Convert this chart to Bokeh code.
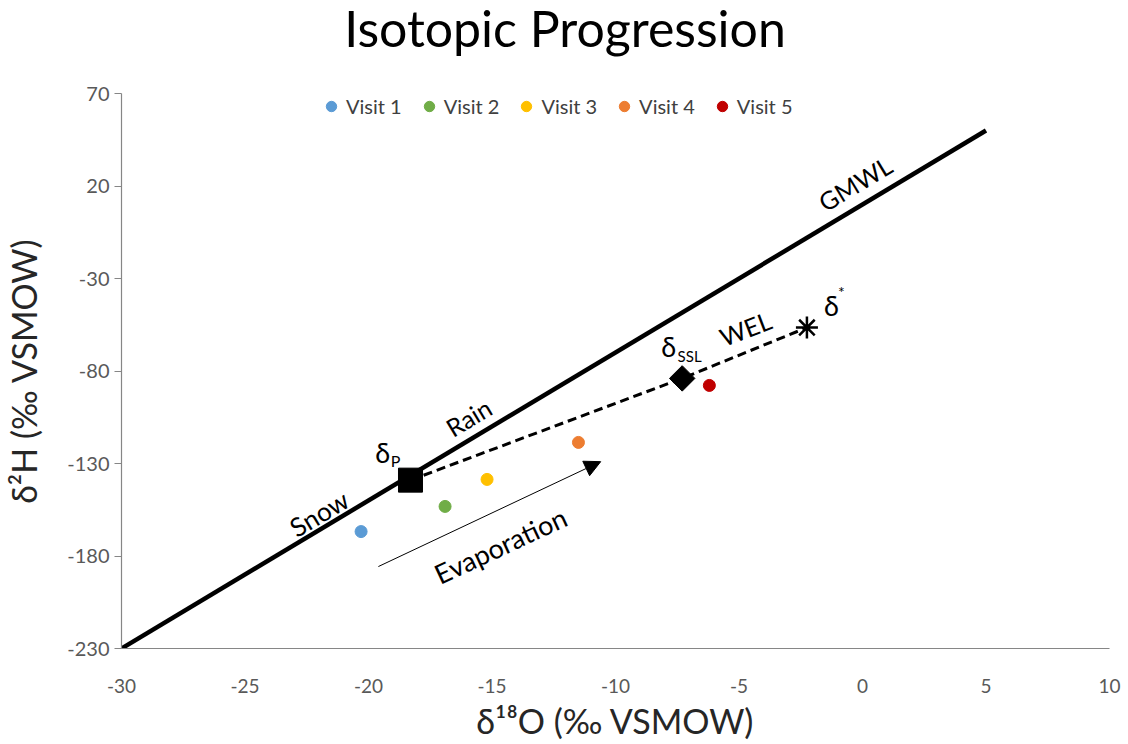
import numpy as np
from bokeh.plotting import figure
from bokeh.layouts import column
from bokeh.models import Range1d, Legend, LegendItem, Arrow, NormalHead, FixedTicker, Div
from bokeh.core.properties import value
from bokeh.embed import file_html
from bokeh.resources import INLINE

# ---- data ----
visits = ["Visit 1", "Visit 2", "Visit 3", "Visit 4", "Visit 5"]
visit_colors = ["#5B9BD5", "#70AD47", "#FFC000", "#ED7D31", "#C00000"]
visit_d18o = [-20.3, -16.9, -15.2, -11.5, -6.2]
visit_d2h = [-166.8, -153.2, -138.6, -118.6, -87.8]

gmwl_d18o = [-30.0, 5.0]
gmwl_d2h = [8 * v + 10 for v in gmwl_d18o]

delta_p = (-18.3, -139.0)
delta_ssl = (-7.3, -84.0)
delta_star = (-2.25, -56.5)

evap_start = (-19.6, -185.7)
evap_end = (-10.6, -129.0)

x_ticks = [-30, -25, -20, -15, -10, -5, 0, 5, 10]
y_ticks = [-230, -180, -130, -80, -30, 20, 70]

FONT = "Lato"
TITLE_H = 62  # vertical space taken by the title block

title = Div(text="Isotopic Progression", width=1128, height=TITLE_H - 10,
            styles={"font-family": FONT, "font-size": "50px", "line-height": "46px",
                    "text-align": "center", "color": "#000000", "padding-right": "8px",
                    "box-sizing": "border-box"})

p = figure(width=1128, height=744 - TITLE_H, output_backend="svg", toolbar_location=None,
           x_range=Range1d(-30, 10), y_range=Range1d(-230, 70),
           min_border_left=121, min_border_right=19, min_border_top=93 - TITLE_H,
           min_border_bottom=96)
p.outline_line_color = None
p.xgrid.visible = False
p.ygrid.visible = False
p.background_fill_color = "white"

for ax in (p.xaxis[0], p.yaxis[0]):
    ax.axis_line_color = "#868686"
    ax.axis_line_width = 1.2
    ax.major_label_text_font = FONT
    ax.major_label_text_color = "#595959"
    ax.axis_label_text_font = FONT
    ax.axis_label_text_font_size = "34px"
    ax.axis_label_text_font_style = "normal"
    ax.axis_label_text_color = "#262626"
    ax.minor_tick_line_color = None

p.xaxis.major_label_text_font_size = "19px"
p.yaxis.major_label_text_font_size = "20px"
p.xaxis.ticker = FixedTicker(ticks=x_ticks)
p.yaxis.ticker = FixedTicker(ticks=y_ticks)
p.xaxis.major_label_overrides = {t: str(t) for t in x_ticks}
p.yaxis.major_label_overrides = {t: str(t) for t in y_ticks}
p.xaxis.major_tick_line_color = None
p.xaxis.major_tick_out = 0
p.xaxis.major_tick_in = 0
p.xaxis.major_label_standoff = 30
p.yaxis.major_tick_line_color = "#868686"
p.yaxis.major_tick_out = 7
p.yaxis.major_tick_in = 0
p.yaxis.major_label_standoff = 5
p.xaxis.axis_label = "δ¹⁸O (‰ VSMOW)"
p.yaxis.axis_label = "δ²H (‰ VSMOW)"
p.xaxis.axis_label_standoff = 4
p.yaxis.axis_label_standoff = 20

# GMWL
p.line(gmwl_d18o, gmwl_d2h, line_color="black", line_width=4.5)

# WEL dashed
p.line([delta_p[0], delta_ssl[0], delta_star[0]], [delta_p[1], delta_ssl[1], delta_star[1]],
       line_color="black", line_width=3, line_dash="9 5")

# evaporation arrow
p.add_layout(Arrow(end=NormalHead(size=16, fill_color="black", line_color="black"),
                   x_start=evap_start[0], y_start=evap_start[1],
                   x_end=evap_end[0], y_end=evap_end[1],
                   line_color="black", line_width=1))

# special markers
p.scatter([delta_p[0]], [delta_p[1]], marker="square", size=24, fill_color="black", line_color="black")
p.scatter([delta_ssl[0]], [delta_ssl[1]], marker="square", size=18, angle=np.pi / 4,
          fill_color="black", line_color="black")
p.scatter([delta_star[0]], [delta_star[1]], marker="asterisk", size=22, line_color="black", line_width=2.5)

# visits
items = []
for name, c, x, y in zip(visits, visit_colors, visit_d18o, visit_d2h):
    r = p.scatter([x], [y], size=12, fill_color=c, line_color=c)
    items.append(LegendItem(label=name, renderers=[r]))

legend = Legend(items=items, orientation="horizontal", location=(196, 529),
                background_fill_alpha=0, border_line_color=None,
                label_text_font=FONT, label_text_font_size="20px", label_text_color="#404040",
                glyph_width=28, glyph_height=26, label_standoff=1, spacing=13, padding=0, margin=0)
p.add_layout(legend)

# annotations
def txt(x, y, s, size, angle_deg=0, align="center", baseline="middle"):
    p.text([x], [y], text=[s], text_font=value(FONT), text_font_size=size,
           angle=np.deg2rad(angle_deg), text_align=align, text_baseline=baseline, text_color="black")

txt(-0.3, 21.4, "GMWL", "25px", 31)
txt(-15.95, -105.0, "Rain", "25px", 31)
txt(-22.0, -157.0, "Snow", "26px", 31)
txt(-4.74, -57.0, "WEL", "25px", 21)
txt(-14.66, -174.3, "Evaporation", "27px", 25)
txt(-19.43, -124.0, "δ", "27px")
txt(-18.9, -128.5, "P", "16px")
txt(-7.85, -66.8, "δ", "27px")
txt(-7.0, -72.0, "SSL", "15px")
txt(-1.26, -44.6, "δ", "27px")
txt(-0.85, -37.0, "*", "16px")

layout = column(title, p, spacing=0)
open("out.html", "w").write(file_html(layout, INLINE))
